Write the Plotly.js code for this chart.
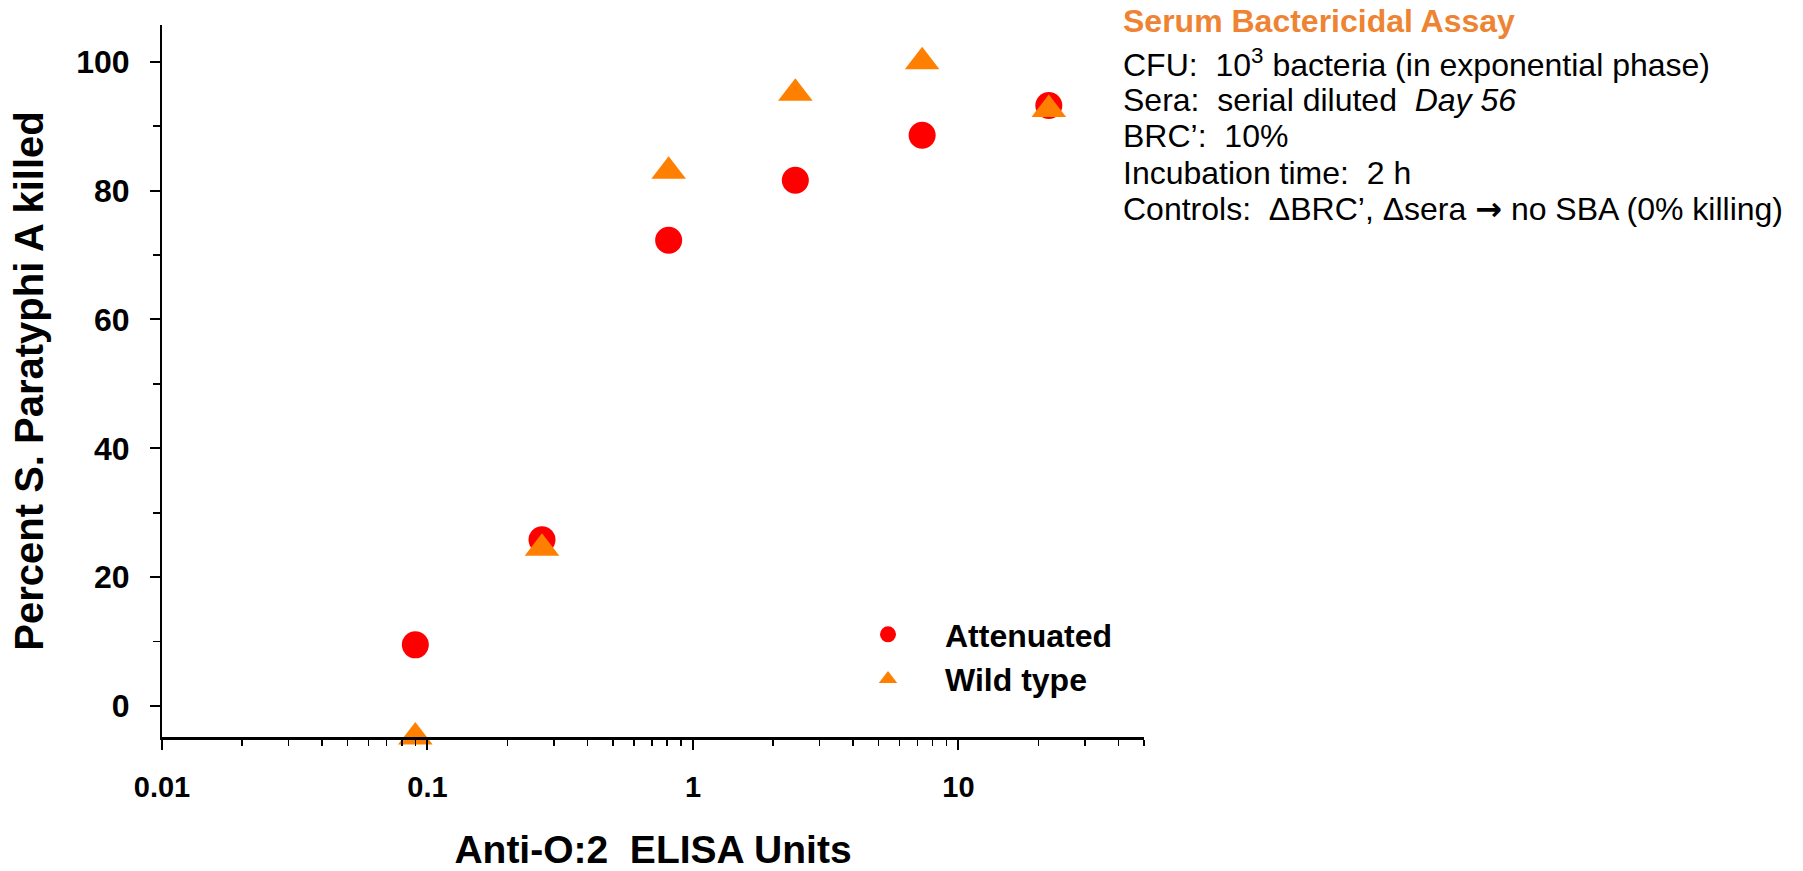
<!DOCTYPE html>
<html><head><meta charset="utf-8">
<script src="https://cdn.plot.ly/plotly-3.0.1.min.js"></script>
<style>html,body{margin:0;padding:0;background:#fff}#chart{width:1803px;height:871px}</style>
</head><body><div id="chart"></div>
<script>
// ---- data ----
const elisaUnits = [0.09, 0.27, 0.81, 2.43, 7.3, 21.9];
const attenuatedKilled = [9.5, 25.8, 72.3, 81.6, 88.6, 93.2];
const wildTypeKilled = [-4.8, 24.5, 83.0, 95.1, 100.0, 92.6];
const seriesNames = ['Attenuated', 'Wild type'];
const xTickVals = [0.01, 0.1, 1, 10];
const xTickText = ['0.01', '0.1', '1', '10'];
const yTickVals = [0, 20, 40, 60, 80, 100];
const xAxisTitle = 'Anti-O:2  ELISA Units';
const yAxisTitle = 'Percent S. Paratyphi A killed';
const noteTitle = 'Serum Bactericidal Assay';
const noteLines = [
  'CFU:  10<sup>3</sup> bacteria (in exponential phase)',
  'Sera:  serial diluted  <i>Day 56</i>',
  'BRC\u2019:  10%',
  'Incubation time:  2 h',
  'Controls:  \u0394BRC\u2019, \u0394sera <span style="font-family:DejaVu Sans;font-weight:bold">\u2192</span> no SBA (0% killing)'
];

// ---- styling / layout ----
const FONT = 'Liberation Sans, Arial, sans-serif';
const W = 1803, H = 871;
const M = {l: 162, r: 659, t: 25, b: 134};
const plotH = H - M.t - M.b;
const py = (pix) => (H - M.b - pix) / plotH;   // pixel row -> paper y
const plotW = W - M.l - M.r;
const px = (pix) => (pix - M.l) / plotW;       // pixel col -> paper x

const traces = [
  {x: elisaUnits, y: attenuatedKilled, name: seriesNames[0], type: 'scatter', mode: 'markers',
   cliponaxis: false, marker: {symbol: 'circle', size: 27, color: '#FF0000'}},
  {x: elisaUnits, y: wildTypeKilled, name: seriesNames[1], type: 'scatter', mode: 'markers',
   cliponaxis: false, marker: {symbol: 'triangle-up', size: 30, color: '#FF8000'}}
];

const noteX = px(1121);
const annotations = [{
  xref: 'paper', yref: 'paper', x: noteX, y: py(21), xanchor: 'left', yanchor: 'middle',
  text: '<b>' + noteTitle + '</b>', showarrow: false, align: 'left',
  font: {family: FONT, size: 32, color: '#EE8433'}
}];
const lineRows = [63, 100, 136, 172.5, 209];
noteLines.forEach((t, i) => annotations.push({
  xref: 'paper', yref: 'paper', x: noteX, y: py(lineRows[i]), xanchor: 'left', yanchor: 'middle',
  text: t, showarrow: false, align: 'left',
  font: {family: FONT, size: 32, color: '#000000'}
}));

const layout = {
  width: W, height: H,
  margin: M,
  paper_bgcolor: '#ffffff', plot_bgcolor: '#ffffff',
  font: {family: FONT, color: '#000000'},
  showlegend: true,
  legend: {
    x: px(831), y: py(607), xanchor: 'left', yanchor: 'top',
    itemwidth: 104, tracegroupgap: 0, bgcolor: 'rgba(0,0,0,0)',
    font: {family: FONT, size: 32, color: '#000000', weight: 'bold'}
  },
  xaxis: {
    type: 'log', range: [-2, Math.log10(50)],
    tickmode: 'array', tickvals: xTickVals, ticktext: xTickText,
    ticks: 'outside', ticklen: 10, tickwidth: 2, tickcolor: '#000',
    minor: {ticks: 'outside', dtick: 'D1', ticklen: 6, tickwidth: 1.5, tickcolor: '#000'},
    showline: true, linecolor: '#000', linewidth: 2.5,
    showgrid: false, zeroline: false,
    tickfont: {family: FONT, size: 29, weight: 'bold'},
    ticklabelstandoff: 13,
    title: {text: '<b>' + xAxisTitle + '</b>', font: {family: FONT, size: 39}, standoff: 46}
  },
  yaxis: {
    range: [-4.8, 105.7],
    tickmode: 'array', tickvals: yTickVals,
    ticks: 'outside', ticklen: 10, tickwidth: 2, tickcolor: '#000',
    minor: {ticks: 'outside', dtick: 10, ticklen: 7, tickwidth: 1.5, tickcolor: '#000'},
    showline: true, linecolor: '#000', linewidth: 2,
    showgrid: false, zeroline: false,
    tickfont: {family: FONT, size: 32, weight: 'bold'},
    ticklabelstandoff: 14,
    title: {text: '<b>' + yAxisTitle + '</b>', font: {family: FONT, size: 40}, standoff: 20}
  },
  annotations: annotations
};

Plotly.newPlot('chart', traces, layout, {displayModeBar: false, staticPlot: true});
</script>
</body></html>
